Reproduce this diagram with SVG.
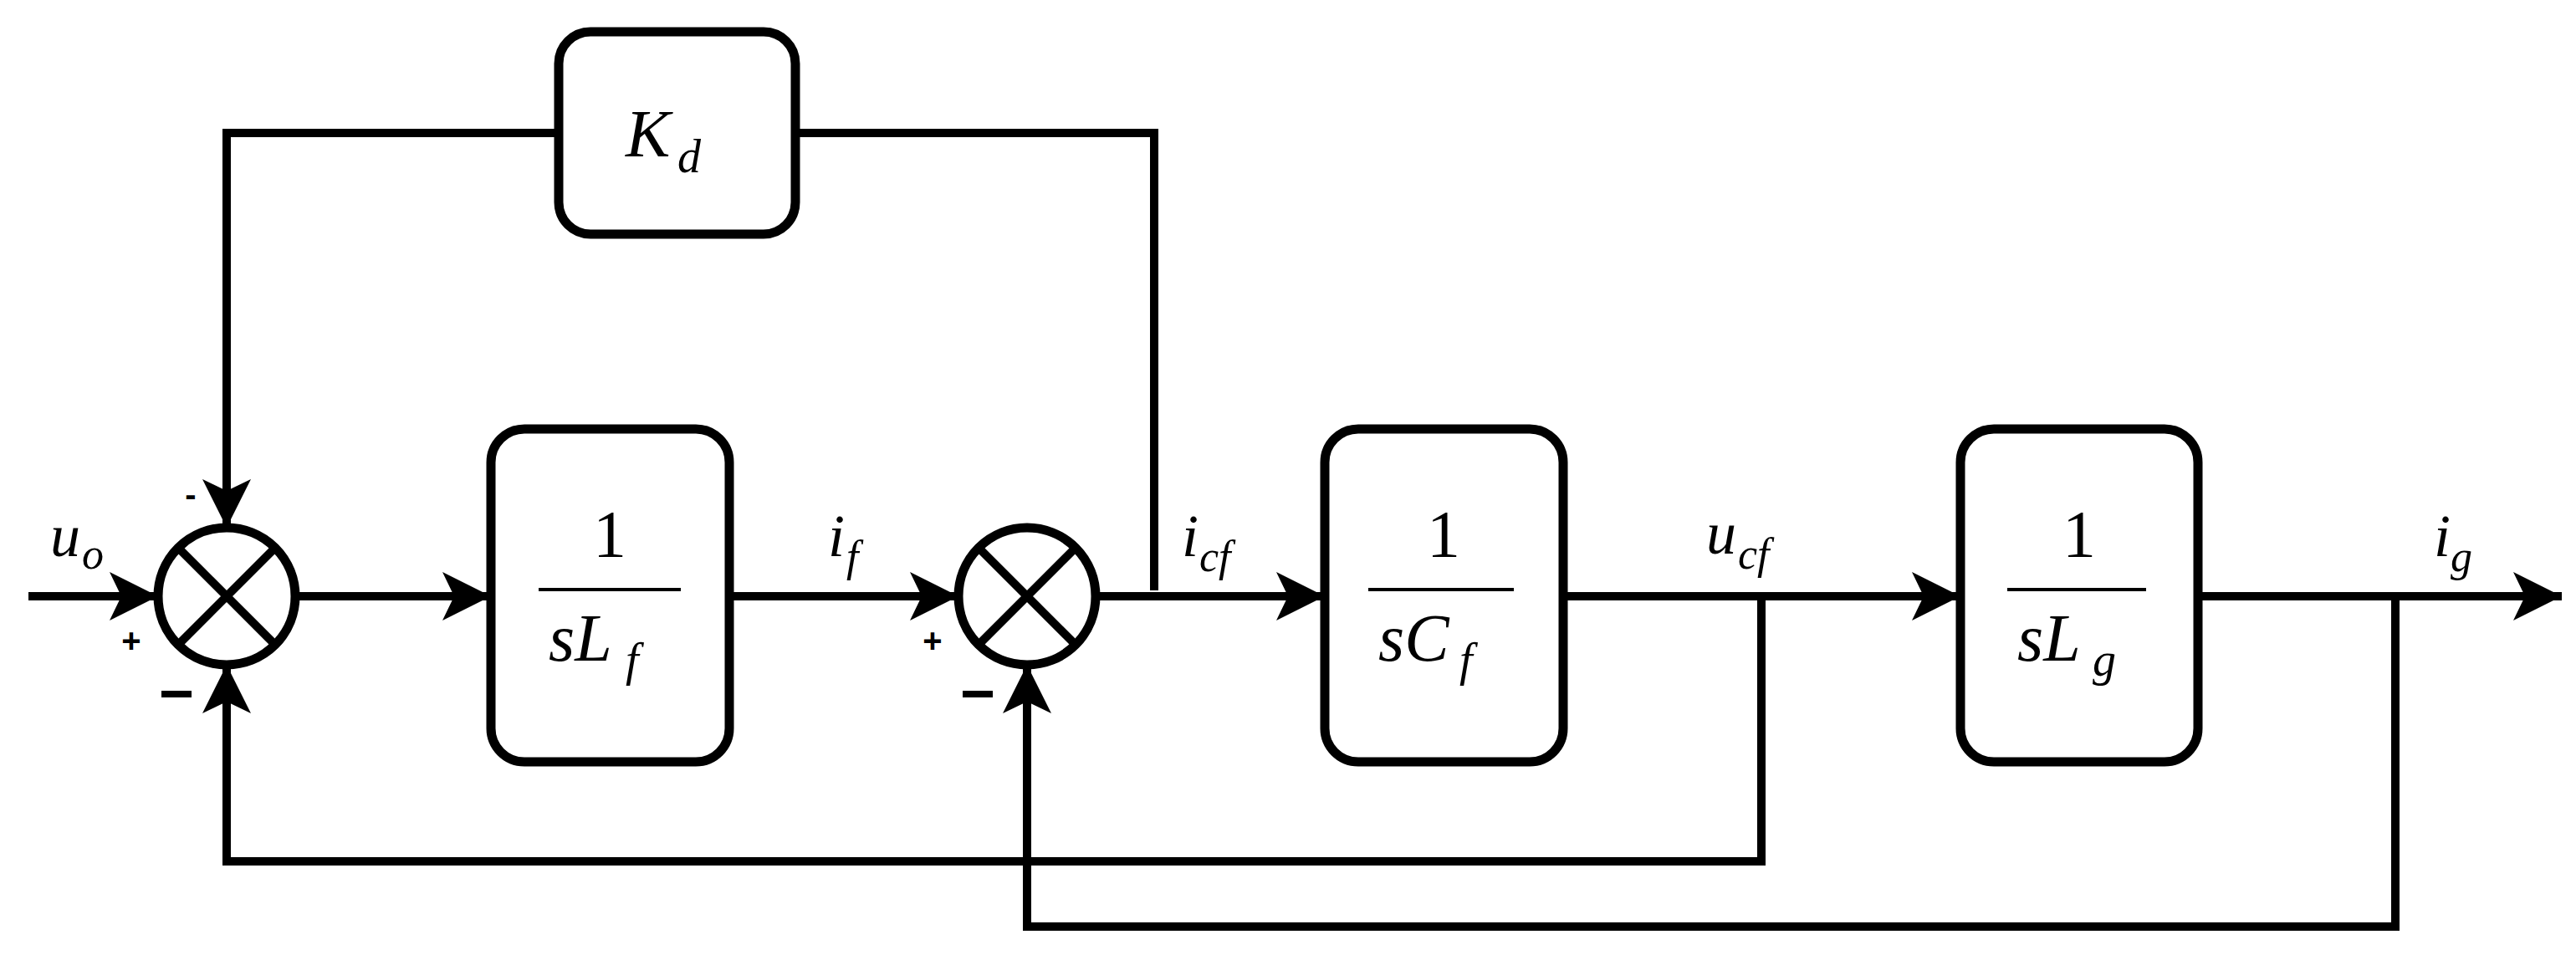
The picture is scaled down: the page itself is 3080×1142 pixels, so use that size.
<svg xmlns="http://www.w3.org/2000/svg" width="3080" height="1142" viewBox="0 0 3080 1142">
<style>
.w{fill:none;stroke:#000;stroke-width:10}
.b{fill:#fff;stroke:#000;stroke-width:11}
.m{font-family:"Liberation Serif","DejaVu Serif",serif;font-style:italic;fill:#000}
.n{font-family:"Liberation Serif","DejaVu Serif",serif;fill:#000}
.s{font-family:"Liberation Sans",Arial,sans-serif;font-weight:bold;fill:#000}
</style>
<defs>
<marker id="a" markerUnits="userSpaceOnUse" markerWidth="62" markerHeight="62" refX="58" refY="30" orient="auto" viewBox="0 0 62 60">
<path d="M0,1 L58,30 L0,59 L14,30 Z" fill="#000"/>
</marker>
</defs>
<g id="connectors">
<path class="w" d="M34,713 L189,713" marker-end="url(#a)"/>
<path class="w" d="M353,713 L587,713" marker-end="url(#a)"/>
<path class="w" d="M872,713 L1146,713" marker-end="url(#a)"/>
<path class="w" d="M1310,713 L1584,713" marker-end="url(#a)"/>
<path class="w" d="M1869,713 L2344,713" marker-end="url(#a)"/>
<path class="w" d="M2628,713 L3063,713" marker-end="url(#a)"/>
<path class="w" d="M1380,706 L1380,159 L951,159"/>
<path class="w" d="M668,159 L271,159 L271,631" marker-end="url(#a)"/>
<path class="w" d="M2106,713 L2106,1030 L271,1030 L271,795" marker-end="url(#a)"/>
<path class="w" d="M2864,713 L2864,1108 L1228,1108 L1228,795" marker-end="url(#a)"/>
</g>
<g id="sum1">
<circle class="b" cx="271" cy="713" r="82"/>
<path class="w" d="M213,655 L329,771 M329,655 L213,771"/>
</g>
<g id="sum2">
<circle class="b" cx="1228" cy="713" r="82"/>
<path class="w" d="M1170,655 L1286,771 M1286,655 L1170,771"/>
</g>
<g id="kd">
<rect class="b" x="668" y="38" width="283" height="242" rx="38"/>
<text class="m" x="748" y="187" font-size="80">K</text><text class="m" x="810" y="206" font-size="56">d</text>
</g>
<g id="lf">
<rect class="b" x="587" y="513" width="285" height="398" rx="40"/>
<text class="n" x="729" y="666" font-size="80" text-anchor="middle">1</text>
<line x1="644" y1="705" x2="814" y2="705" stroke="#000" stroke-width="4"/>
<text class="m" x="656" y="790" font-size="80">sL</text><text class="m" x="748" y="808" font-size="56">f</text>
</g>
<g id="cf">
<rect class="b" x="1584" y="513" width="285" height="398" rx="40"/>
<text class="n" x="1726" y="666" font-size="80" text-anchor="middle">1</text>
<line x1="1636" y1="705" x2="1810" y2="705" stroke="#000" stroke-width="4"/>
<text class="m" x="1648" y="790" font-size="80">sC</text><text class="m" x="1745" y="808" font-size="56">f</text>
</g>
<g id="lg">
<rect class="b" x="2344" y="513" width="284" height="398" rx="40"/>
<text class="n" x="2486" y="666" font-size="80" text-anchor="middle">1</text>
<line x1="2400" y1="705" x2="2566" y2="705" stroke="#000" stroke-width="4"/>
<text class="m" x="2412" y="790" font-size="80">sL</text><text class="m" x="2502" y="808" font-size="56">g</text>
</g>
<g id="labels">
<text class="m" x="60" y="665" font-size="72">u</text><text class="m" x="98" y="680" font-size="52">o</text>
<text class="m" x="990" y="665" font-size="72">i</text><text class="m" x="1012" y="683" font-size="52">f</text>
<text class="m" x="1413" y="665" font-size="72">i</text><text class="m" x="1434" y="683" font-size="52">cf</text>
<text class="m" x="2040" y="662" font-size="72">u</text><text class="m" x="2078" y="680" font-size="52">cf</text>
<text class="m" x="2910" y="665" font-size="72">i</text><text class="m" x="2930" y="683" font-size="52">g</text>
<text class="s" x="157" y="780" font-size="40" text-anchor="middle">+</text>
<text class="s" x="1115" y="780" font-size="40" text-anchor="middle">+</text>
<text class="s" x="228" y="605" font-size="40" text-anchor="middle">-</text>
<rect x="193" y="826" width="36" height="8" fill="#000"/>
<rect x="1151" y="826" width="36" height="8" fill="#000"/>
</g>
</svg>
